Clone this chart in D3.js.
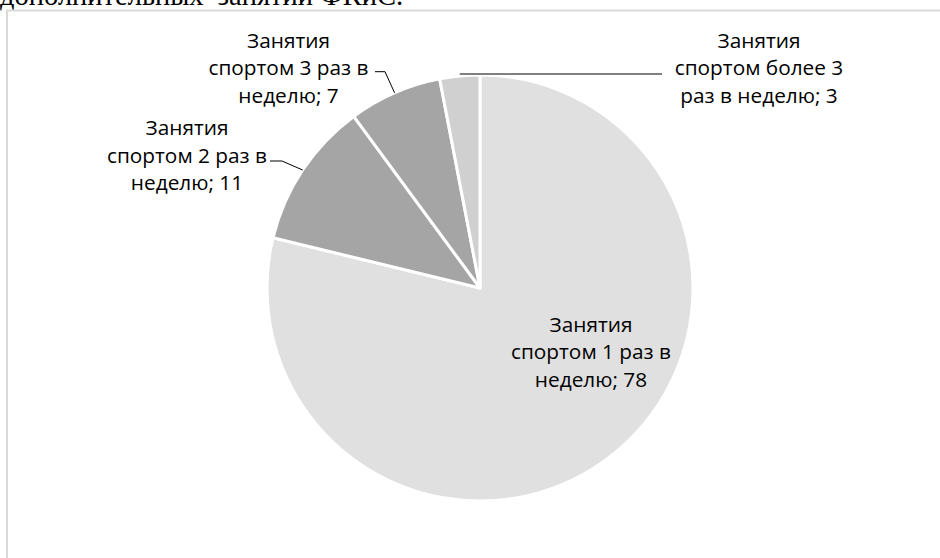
<!DOCTYPE html>
<html><head><meta charset="utf-8">
<script src="https://cdn.jsdelivr.net/npm/d3@7"></script>
<style>
html,body{margin:0;padding:0;background:#fff;overflow:hidden;}
svg{display:block;}
</style></head>
<body>
<svg id="chart" width="940" height="558"></svg>
<script>
// ---- data ----
const categories = [
  "Занятия спортом 1 раз в неделю",
  "Занятия спортом 2 раз в неделю",
  "Занятия спортом 3 раз в неделю",
  "Занятия спортом более 3 раз в неделю"
];
const values = [78, 11, 7, 3];
const labelLines = [
  ["Занятия", "спортом 1 раз в", "неделю; 78"],
  ["Занятия", "спортом 2 раз в", "неделю; 11"],
  ["Занятия", "спортом 3 раз в", "неделю; 7"],
  ["Занятия", "спортом более 3", "раз в неделю; 3"]
];
const colors = ["#e0e0e0", "#a5a5a5", "#a5a5a5", "#d0d0d0"];

// ---- layout ----
const svg = d3.select("#chart");
const cx = 480, cy = 288, R = 213;
const fontFam = "'Open Sans', 'Noto Sans', sans-serif";
const fontSize = 20.8;
const lineH = 27.7;

// caption text cut off at top (from surrounding document)
svg.append("text")
  .attr("x", 0).attr("y", 5)
  .attr("font-family", "'Liberation Serif', 'Times New Roman', serif")
  .attr("font-size", 28.5)
  .attr("fill", "#000")
  .style("white-space", "pre")
  .text("дополнительных  занятий ФКиС.");

// chart area border
svg.append("rect")
  .attr("x", 7).attr("y", 10.5)
  .attr("width", 960).attr("height", 600)
  .attr("fill", "#fff")
  .attr("stroke", "#d9d9d9").attr("stroke-width", 2);

const pie = d3.pie().sort(null).value(d => d)(values);
const arc = d3.arc().innerRadius(0).outerRadius(R);

const g = svg.append("g").attr("transform", `translate(${cx},${cy})`);
g.selectAll("path.slice").data(pie).join("path")
  .attr("class", "slice")
  .attr("d", arc)
  .attr("fill", (d, i) => colors[i])
  .attr("stroke", "#fff")
  .attr("stroke-width", 3)
  .attr("stroke-linejoin", "round");

// label placement (layout positions)
const labelPos = [
  {x: 591, y: 331.5, leader: null},
  {x: 187, y: 135, leader: [[282, 161], [270, 161]]},
  {x: 288.5, y: 47.7, leader: [[385, 71.7], [375, 71.7]]},
  {x: 759, y: 47.7, leader: [[662, 74]]}
];

pie.forEach((d, i) => {
  const p = labelPos[i];
  if (p.leader) {
    const mid = (d.startAngle + d.endAngle) / 2;
    let sx = cx + R * Math.sin(mid), sy = cy - R * Math.cos(mid);
    const pts = [[sx, sy]].concat(p.leader);
    if (i === 3) pts[0][1] = p.leader[0][1];
    svg.append("path")
      .attr("d", d3.line()(pts))
      .attr("fill", "none")
      .attr("stroke", "#000")
      .attr("stroke-width", 1);
  }
  const t = svg.append("text")
    .attr("font-family", fontFam)
    .attr("font-size", fontSize)
    .attr("fill", "#000")
    .attr("text-anchor", "middle");
  labelLines[i].forEach((ln, k) => {
    t.append("tspan").attr("x", p.x).attr("y", p.y + k * lineH).text(ln);
  });
});
</script>
</body></html>
